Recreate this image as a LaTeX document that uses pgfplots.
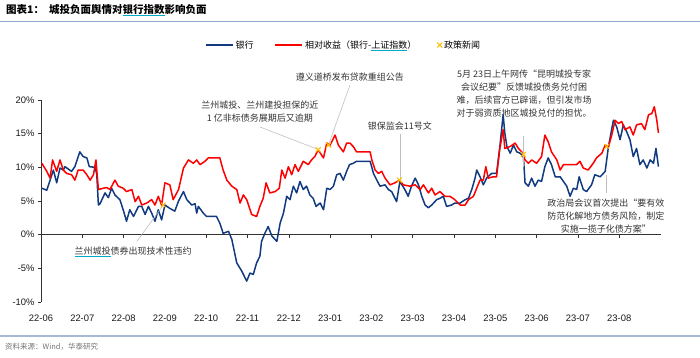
\documentclass[border=0pt]{standalone}
\usepackage{fontspec}
\setmainfont{Liberation Sans}
\newfontfamily\cjk{Noto Sans CJK SC}
\usepackage{pgfplots}
\pgfplotsset{compat=1.18}
\definecolor{bankblue}{RGB}{17,58,128}
\definecolor{relred}{RGB}{255,0,0}
\definecolor{newsorange}{RGB}{255,192,0}
\definecolor{annogray}{RGB}{191,191,191}
\definecolor{rulecol}{RGB}{143,170,204}
\definecolor{rulecolb}{RGB}{166,186,212}
\definecolor{ulcyan}{RGB}{0,170,200}
\newcommand\cul[1]{\setbox0\hbox{#1}\rlap{\textcolor{ulcyan}{\rule[-2.4bp]{\wd0}{0.9bp}}}\box0}
\pgfplotsset{
  linelegend/.style={legend image code/.code={\draw[##1] (0bp,0bp) -- (27bp,0bp);}},
  newslegend/.style={legend image code/.code={\draw[mark repeat=2,mark phase=2,##1] plot coordinates {(0bp,0bp)(13.5bp,0bp)(27bp,0bp)};}},
}
\begin{document}
\begin{tikzpicture}[x=1bp,y=1bp]
\path[use as bounding box] (0,0) rectangle (700,357);
\node[anchor=west, inner sep=0pt] at (6,347) {\cjk\bfseries\fontsize{10.5bp}{12bp}\selectfont 图表1：\hspace{5bp}城投负面舆情对\cul{银行指数}影响负面};
\draw[rulecol, line width=1bp] (0,335) -- (700,335);
\draw[rulecolb, line width=1.6bp] (0,21) -- (700,21);
\node[anchor=west, inner sep=0pt, text=black!55] at (5,10) {\cjk\fontsize{7.5bp}{9bp}\selectfont 资料来源：Wind，华泰研究};
\begin{axis}[
  at={(41bp,55bp)}, anchor=south west,
  scale only axis, width=619.5bp, height=202bp,
  xmin=0, xmax=15, ymin=-10, ymax=20,
  clip=false,
  axis x line=bottom, axis y line=left,
  x axis line style={draw=none},
  y axis line style={-, black!80, line width=0.6bp},
  xtick={0,...,14},
  xticklabels={22-06,22-07,22-08,22-09,22-10,22-11,22-12,23-01,23-02,23-03,23-04,23-05,23-06,23-07,23-08},
  xtick style={draw=none},
  ytick={-10,-5,0,5,10,15,20},
  yticklabel={\pgfmathprintnumber{\tick}\%},
  ytick style={black!80, line width=0.6bp},
  tick align=outside, major tick length=3bp,
  /pgf/number format/assume math mode=true,
  ticklabel style={font=\fontsize{9.4bp}{11bp}\selectfont, text=black!90},
  xticklabel style={yshift=-6bp},
  legend columns=3,
  legend style={at={(0.2647,1.272)}, anchor=west, draw=none, fill=none, inner sep=0pt,
    font=\cjk\fontsize{9bp}{11bp}\selectfont,
    /tikz/every even column/.append style={column sep=19bp}},
  linelegend,
]
\draw[black!80, line width=0.6bp] (axis cs:0,0) -- (axis cs:15,0);
\draw[black!80, line width=0.6bp] (axis cs:1,0) -- (axis cs:1,-0.45) (axis cs:2,0) -- (axis cs:2,-0.45) (axis cs:3,0) -- (axis cs:3,-0.45) (axis cs:4,0) -- (axis cs:4,-0.45) (axis cs:5,0) -- (axis cs:5,-0.45) (axis cs:6,0) -- (axis cs:6,-0.45) (axis cs:7,0) -- (axis cs:7,-0.45) (axis cs:8,0) -- (axis cs:8,-0.45) (axis cs:9,0) -- (axis cs:9,-0.45) (axis cs:10,0) -- (axis cs:10,-0.45) (axis cs:11,0) -- (axis cs:11,-0.45) (axis cs:12,0) -- (axis cs:12,-0.45) (axis cs:13,0) -- (axis cs:13,-0.45) (axis cs:14,0) -- (axis cs:14,-0.45);
\addplot[bankblue, line width=1.5bp, line join=round] coordinates {
(0.02,6.9)(0.14,6.6)(0.22,8.1)(0.30,9.6)(0.38,7.7)(0.46,9.9)(0.54,9.6)(0.58,10.1)(0.74,9.4)(0.82,10.1)(0.94,12.3)(1.02,11.6)(1.11,11.4)(1.17,10.1)(1.31,10.0)(1.35,9.0)(1.39,4.4)(1.43,4.6)(1.55,6.2)(1.63,5.5)(1.71,6.9)(1.79,5.9)(1.91,5.2)(1.99,3.7)(2.07,2.0)(2.15,3.7)(2.24,2.7)(2.36,4.2)(2.44,4.2)(2.52,3.0)(2.60,4.2)(2.68,3.2)(2.76,2.0)(2.84,3.7)(2.92,2.2)(3.00,4.4)(3.12,3.9)(3.24,3.5)(3.33,5.0)(3.45,6.4)(3.53,5.2)(3.65,4.4)(3.73,4.6)(3.77,3.2)(3.81,4.2)(3.93,3.2)(4.01,2.7)(4.25,2.7)(4.33,1.7)(4.41,0.2)(4.54,0.5)(4.62,-0.7)(4.74,-4.2)(4.86,-5.4)(4.98,-6.9)(5.06,-5.7)(5.14,-5.9)(5.22,-4.2)(5.30,-3.2)(5.34,-1.0)(5.42,0.2)(5.50,1.2)(5.59,-0.2)(5.71,-1.0)(5.79,1.7)(5.87,3.2)(5.95,5.7)(6.03,5.2)(6.11,7.2)(6.19,6.2)(6.27,7.9)(6.35,6.7)(6.43,7.2)(6.51,5.9)(6.59,5.4)(6.66,4.2)(6.76,4.7)(6.84,3.7)(6.92,6.9)(7.00,6.7)(7.08,7.2)(7.16,8.9)(7.24,9.1)(7.32,8.1)(7.40,9.4)(7.47,10.4)(7.56,10.6)(7.64,10.9)(7.97,10.9)(8.05,9.1)(8.13,8.1)(8.21,7.2)(8.33,7.4)(8.41,6.7)(8.49,6.4)(8.61,4.9)(8.69,7.9)(8.81,6.7)(8.89,5.7)(8.97,7.2)(9.06,8.4)(9.14,7.4)(9.22,5.7)(9.30,4.4)(9.38,4.0)(9.46,4.4)(9.58,5.2)(9.66,5.4)(9.74,5.7)(9.82,4.2)(9.94,4.4)(10.02,4.7)(10.15,4.7)(10.27,5.2)(10.35,5.4)(10.43,6.7)(10.51,8.4)(10.55,9.6)(10.63,8.6)(10.71,7.4)(10.79,8.4)(10.91,9.1)(11.03,9.1)(11.11,13.1)(11.19,17.8)(11.23,15.1)(11.28,13.1)(11.36,12.1)(11.44,13.3)(11.52,12.3)(11.60,12.1)(11.68,11.6)(11.72,7.7)(11.80,7.2)(11.88,8.4)(11.96,7.2)(12.04,8.1)(12.12,7.9)(12.20,10.1)(12.28,11.4)(12.36,10.4)(12.45,8.6)(12.57,8.6)(12.65,7.9)(12.73,7.2)(12.81,5.7)(12.89,6.9)(12.97,6.7)(13.03,8.6)(13.13,6.7)(13.21,6.4)(13.33,7.4)(13.41,8.9)(13.54,8.6)(13.66,9.4)(13.74,13.1)(13.86,17.0)(13.94,16.0)(14.02,14.1)(14.10,16.3)(14.18,15.3)(14.26,14.1)(14.34,11.6)(14.42,12.8)(14.50,10.4)(14.58,11.1)(14.67,9.9)(14.75,11.1)(14.83,10.6)(14.89,12.8)(14.95,10.1)
};
\addplot[relred, line width=1.5bp, line join=round] coordinates {
(0.02,10.6)(0.14,9.4)(0.22,8.4)(0.28,11.1)(0.38,9.4)(0.46,11.1)(0.54,9.6)(0.62,9.1)(0.74,8.9)(0.82,8.1)(0.90,9.6)(1.02,9.6)(1.11,8.9)(1.19,8.1)(1.27,8.9)(1.33,11.1)(1.39,6.7)(1.51,6.9)(1.59,7.0)(1.67,6.7)(1.79,8.1)(1.87,7.2)(1.99,6.9)(2.07,6.4)(2.20,6.7)(2.28,4.9)(2.36,5.7)(2.44,4.4)(2.56,4.7)(2.68,5.2)(2.76,4.4)(2.84,5.7)(2.92,4.4)(3.00,7.7)(3.12,7.4)(3.20,5.2)(3.33,6.7)(3.45,9.9)(3.57,11.1)(3.69,10.6)(3.77,11.1)(3.85,10.4)(3.97,10.9)(4.05,11.4)(4.33,11.4)(4.41,9.6)(4.50,8.1)(4.62,7.2)(4.74,6.7)(4.82,4.7)(4.90,5.9)(4.98,5.2)(5.10,3.0)(5.22,2.7)(5.30,4.2)(5.38,5.4)(5.45,7.7)(5.54,6.2)(5.67,6.4)(5.77,6.9)(5.83,9.6)(5.91,8.4)(5.99,10.1)(6.07,8.9)(6.15,10.4)(6.23,9.4)(6.35,10.9)(6.47,10.4)(6.55,11.1)(6.63,11.6)(6.71,12.6)(6.84,11.4)(6.92,13.6)(7.00,13.3)(7.12,14.8)(7.20,13.3)(7.32,12.3)(7.40,13.6)(7.48,13.6)(7.56,13.1)(7.64,12.3)(7.97,12.3)(8.01,11.1)(8.09,9.6)(8.17,9.1)(8.25,9.4)(8.33,8.4)(8.45,7.4)(8.57,7.7)(8.68,8.1)(8.77,7.4)(8.93,7.2)(9.06,7.4)(9.18,6.7)(9.26,7.4)(9.38,6.2)(9.46,6.9)(9.54,5.9)(9.66,6.4)(9.78,5.7)(9.90,5.7)(10.02,5.2)(10.15,4.4)(10.27,4.4)(10.35,5.2)(10.47,5.7)(10.55,6.9)(10.63,8.1)(10.71,8.1)(10.77,10.1)(10.83,8.4)(10.95,8.6)(11.03,8.6)(11.11,12.8)(11.19,15.6)(11.23,12.8)(11.36,13.1)(11.48,13.6)(11.56,12.8)(11.64,12.3)(11.72,11.1)(11.80,10.6)(11.88,11.1)(12.00,10.6)(12.12,11.6)(12.20,14.8)(12.28,13.8)(12.36,12.3)(12.49,11.1)(12.57,9.6)(12.65,10.4)(12.81,10.4)(12.97,10.4)(13.05,10.9)(13.13,9.9)(13.25,9.6)(13.37,10.6)(13.45,11.4)(13.58,12.1)(13.66,13.3)(13.74,13.1)(13.82,14.8)(13.90,17.0)(13.98,16.5)(14.06,16.8)(14.14,15.6)(14.26,16.0)(14.34,14.8)(14.42,16.3)(14.54,16.5)(14.62,15.6)(14.71,17.8)(14.79,18.0)(14.85,19.0)(14.91,17.0)(14.95,15.1)
};
\addplot[only marks, mark=x, mark size=3.5bp, newsorange, line width=1bp, newslegend]
  coordinates {(2.96,4.4)(6.71,12.6)(6.96,13.3)(8.68,8.1)(11.68,11.9)(13.70,13.1)};
\legend{银行,相对收益（银行-\cul{上证指数}）,政策新闻}
\draw[annogray, line width=0.6bp] (axis cs:2.32,-1.0) -- (axis cs:2.94,4.2);
\draw[annogray, line width=0.6bp] (axis cs:5.30,16.0) -- (axis cs:6.69,12.7);
\draw[annogray, line width=0.6bp] (axis cs:7.48,22.2) -- (axis cs:6.97,13.5);
\draw[annogray, line width=0.6bp] (axis cs:8.69,14.9) -- (axis cs:8.69,8.3);
\draw[annogray, line width=0.6bp] (axis cs:11.68,14.6) -- (axis cs:11.68,10.0);
\draw[annogray, line width=0.6bp] (axis cs:13.68,8.9) -- (axis cs:13.68,6.2);
\node[inner sep=0pt, text=black!80, align=center, font=\cjk\fontsize{9bp}{13bp}\selectfont] at (axis cs:2.23,-2.52) {\cul{兰州城投}债券出现技术性违约};
\node[inner sep=0pt, text=black!80, align=center, font=\cjk\fontsize{9bp}{13bp}\selectfont] at (axis cs:5.30,18.3) {兰州城投、兰州建投担保的近\\1 亿非标债务展期后又逾期};
\node[inner sep=0pt, text=black!80, align=center, font=\cjk\fontsize{9bp}{13bp}\selectfont] at (axis cs:7.48,23.4) {遵义道桥发布贷款重组公告};
\node[inner sep=0pt, text=black!80, align=center, font=\cjk\fontsize{9bp}{13bp}\selectfont] at (axis cs:8.69,16.1) {银保监会11号文};
\node[inner sep=0pt, text=black!80, align=center, font=\cjk\fontsize{9bp}{13bp}\selectfont] at (axis cs:11.70,20.9) {5月 23日上午网传“昆明城投专家\\会议纪要”反馈城投债务兑付困\\难，后续官方已辟谣，但引发市场\\对于弱资质地区城投兑付的担忧。};
\node[inner sep=0pt, text=black!80, align=center, font=\cjk\fontsize{9bp}{13bp}\selectfont] at (axis cs:13.68,2.8) {政治局会议首次提出“要有效\\防范化解地方债务风险，制定\\实施一揽子化债方案”};
\end{axis}
\end{tikzpicture}
\end{document}
